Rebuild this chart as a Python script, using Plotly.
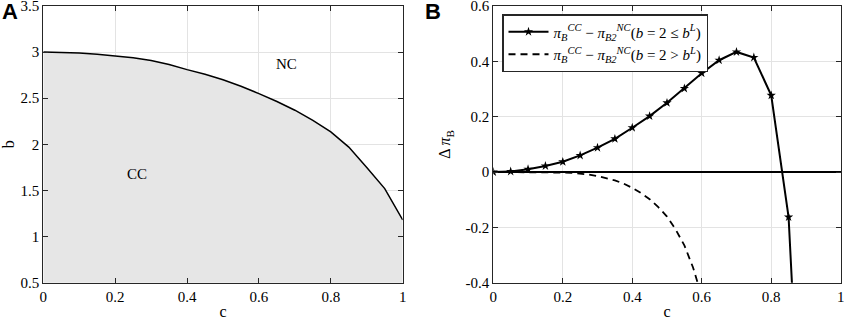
import plotly.graph_objects as go

# Panel A data
c_a = [0, 0.05, 0.1, 0.15, 0.2, 0.25, 0.3, 0.35, 0.4, 0.45, 0.5, 0.55, 0.6,
       0.65, 0.7, 0.75, 0.8, 0.85, 0.9, 0.95, 1.0]
b_boundary = [3.0, 2.998, 2.99, 2.978, 2.96, 2.94, 2.91, 2.865, 2.81, 2.76, 2.70,
              2.63, 2.55, 2.465, 2.37, 2.26, 2.135, 1.97, 1.75, 1.52, 1.18]

# Panel B data
c_b = [0, 0.05, 0.1, 0.15, 0.2, 0.25, 0.3, 0.35, 0.4, 0.45, 0.5, 0.55, 0.6,
       0.65, 0.7, 0.75, 0.8, 0.85, 0.9]
diff_solid = [0, 0.002, 0.01, 0.022, 0.037, 0.06, 0.088, 0.12, 0.16, 0.202, 0.25,
              0.302, 0.357, 0.404, 0.434, 0.414, 0.277, -0.163, -1.4]
c_dash = [0, 0.025, 0.05, 0.075, 0.1, 0.125, 0.15, 0.175, 0.2, 0.225, 0.25, 0.275,
          0.3, 0.325, 0.35, 0.375, 0.4, 0.425, 0.45, 0.475, 0.5, 0.525, 0.55,
          0.575, 0.6]
diff_dash = [0, 0, 0, 0, 0, -0.0005, -0.001, -0.0015, -0.002, -0.003, -0.005, -0.009,
             -0.015, -0.022, -0.03, -0.042, -0.057, -0.076, -0.098, -0.127, -0.161,
             -0.208, -0.265, -0.345, -0.45]

x_ticks = [0, 0.2, 0.4, 0.6, 0.8, 1]
x_ticktext = ["0", "0.2", "0.4", "0.6", "0.8", "1"]
ya_ticks = [0.5, 1, 1.5, 2, 2.5, 3, 3.5]
ya_ticktext = ["0.5", "1", "1.5", "2", "2.5", "3", "3.5"]
yb_ticks = [-0.4, -0.2, 0, 0.2, 0.4, 0.6]
yb_ticktext = ["-0.4", "-0.2", "0", "0.2", "0.4", "0.6"]

leg1 = "<i>π</i><sub><i>B</i></sub><sup><i>CC</i></sup> − <i>π</i><sub><i>B2</i></sub><sup><i>NC</i></sup>(<i>b</i> = 2 ≤ <i>b</i><sup><i>L</i></sup>)"
leg2 = "<i>π</i><sub><i>B</i></sub><sup><i>CC</i></sup> − <i>π</i><sub><i>B2</i></sub><sup><i>NC</i></sup>(<i>b</i> = 2 > <i>b</i><sup><i>L</i></sup>)"

SERIF = "Liberation Serif, Times New Roman, serif"
fig = go.Figure()

fig.add_trace(go.Scatter(x=c_a, y=b_boundary, mode="lines", fill="tozeroy",
                         fillcolor="#e6e6e6", line=dict(color="black", width=1.5),
                         xaxis="x", yaxis="y", showlegend=False))

fig.add_trace(go.Scatter(x=c_b, y=diff_solid, mode="lines+markers",
                         line=dict(color="black", width=2),
                         marker=dict(symbol="star", size=7, color="black"),
                         xaxis="x2", yaxis="y2", name=leg1))
fig.add_trace(go.Scatter(x=c_dash, y=diff_dash, mode="lines",
                         line=dict(color="black", width=1.8, dash="7px,5px"),
                         xaxis="x2", yaxis="y2", name=leg2))

axis_common = dict(showline=True, linecolor="#262626", linewidth=1, mirror="allticks",
                   ticks="inside", ticklen=5, tickcolor="#262626",
                   showgrid=True, gridcolor="#e3e3e3", gridwidth=1,
                   tickfont=dict(family=SERIF, size=15, color="black"),
                   ticklabeloverflow="allow",
                   automargin=False)

ydom = [1 - 282.7 / 321, 1 - 6 / 321]
title_font = dict(family=SERIF, size=16, color="black")
fig.update_layout(
    width=844, height=321,
    font=dict(family=SERIF, size=15, color="black"),
    margin=dict(l=0, r=0, t=0, b=0),
    paper_bgcolor="white", plot_bgcolor="white",
    xaxis=dict(domain=[43.3 / 844, 402.7 / 844], range=[0, 1], tickvals=x_ticks,
               ticktext=x_ticktext, zeroline=False,
               title=dict(text="c", font=title_font, standoff=2),
               anchor="y", **axis_common),
    yaxis=dict(domain=ydom, range=[0.5, 3.5], tickvals=ya_ticks, ticktext=ya_ticktext,
               zeroline=False,
               title=dict(text="b", font=title_font, standoff=12),
               anchor="x", **axis_common),
    xaxis2=dict(domain=[493.3 / 844, 840.7 / 844], range=[0, 1], tickvals=x_ticks,
                ticktext=x_ticktext, zeroline=False,
                title=dict(text="c", font=title_font, standoff=2),
                anchor="y2", **axis_common),
    yaxis2=dict(domain=ydom, range=[-0.4, 0.6], tickvals=yb_ticks, ticktext=yb_ticktext,
                zeroline=True, zerolinecolor="black", zerolinewidth=1.8,
                title=dict(text="Δ <i>π</i><sub>B</sub>", font=title_font, standoff=10),
                anchor="x2", **axis_common),
    legend=dict(x=502 / 844, y=1 - 14 / 321, xref="paper", yref="paper",
                xanchor="left", yanchor="top",
                bgcolor="white", bordercolor="#262626", borderwidth=1.5,
                font=dict(family=SERIF, size=15, color="black"),
                tracegroupgap=0, itemwidth=40),
    annotations=[
        dict(x=0.677, y=2.87, xref="x", yref="y", text="NC", showarrow=False,
             font=dict(family=SERIF, size=15, color="black")),
        dict(x=0.262, y=1.675, xref="x", yref="y", text="CC", showarrow=False,
             font=dict(family=SERIF, size=15, color="black")),
        dict(x=0, y=1, xref="paper", yref="paper", xanchor="left", yanchor="top",
             text="<b>A</b>", showarrow=False, yshift=3,
             font=dict(family="Liberation Sans", size=22, color="black")),
        dict(x=423 / 844, y=1, xref="paper", yref="paper", xanchor="left", yanchor="top",
             text="<b>B</b>", showarrow=False, yshift=3,
             font=dict(family="Liberation Sans", size=22, color="black")),
    ],
)

fig.write_html("out.html", config={"displayModeBar": False},
               post_script="document.body.style.margin='0px';document.body.style.overflow='hidden';")
